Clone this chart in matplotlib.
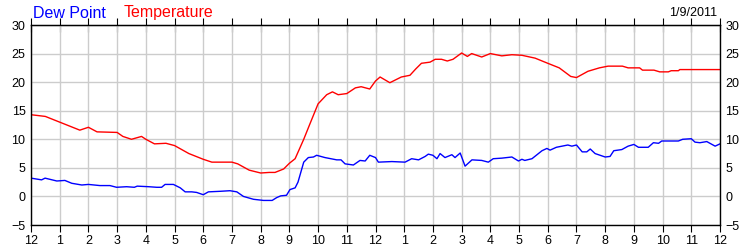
import matplotlib.pyplot as plt

plt.rcParams['font.family'] = ['Liberation Sans', 'DejaVu Sans']

# hours since midnight, readings from the chart
temp_h = [0, 0.5, 1.0, 1.5, 1.7, 2.0, 2.3, 3.0, 3.2, 3.5, 3.85, 4.0, 4.3, 4.7, 5.0,
          5.5, 6.0, 6.3, 7.0, 7.2, 7.6, 8.0, 8.3, 8.5, 8.8, 9.0, 9.2, 9.5, 9.7, 10.0,
          10.3, 10.5, 10.7, 11.0, 11.3, 11.5, 11.8, 12.0, 12.16, 12.5, 12.9, 13.2, 13.4,
          13.6, 13.9, 14.08, 14.3, 14.5, 14.7, 15.0, 15.2, 15.35, 15.7, 16.0, 16.4,
          16.75, 17.1, 17.56, 18.0, 18.4, 18.8, 19.0, 19.4, 19.8, 20.1, 20.6, 20.8,
          21.2, 21.3, 21.7, 21.9, 22.2, 22.3, 22.55, 22.6, 24.0]
temp = [14.3, 14.0, 13.0, 12.0, 11.6, 12.1, 11.3, 11.2, 10.5, 10.0, 10.5, 10.0, 9.2, 9.3, 8.9,
        7.5, 6.5, 6.0, 6.0, 5.7, 4.6, 4.1, 4.2, 4.2, 4.8, 5.8, 6.6, 10.0, 12.5, 16.2,
        17.8, 18.3, 17.8, 18.0, 19.0, 19.2, 18.8, 20.2, 20.9, 19.9, 20.9, 21.2, 22.3,
        23.3, 23.5, 24.0, 24.0, 23.7, 24.0, 25.1, 24.5, 25.0, 24.4, 25.0, 24.6,
        24.8, 24.7, 24.2, 23.3, 22.5, 21.0, 20.8, 21.9, 22.5, 22.8, 22.8, 22.5,
        22.5, 22.1, 22.1, 21.8, 21.8, 22.0, 22.0, 22.2, 22.2]

dew_h = [0, 0.37, 0.49, 0.9, 1.18, 1.42, 1.77, 2.0, 2.4, 2.75, 2.98, 3.33, 3.6, 3.7, 4.1,
         4.38, 4.55, 4.67, 4.96, 5.2, 5.37, 5.6, 5.77, 6.0, 6.18, 6.6, 6.93, 7.17, 7.4,
         7.75, 8.1, 8.4, 8.56, 8.7, 8.9, 9.02, 9.2, 9.3, 9.5, 9.66, 9.84, 9.95, 10.24,
         10.65, 10.8, 10.94, 11.23, 11.46, 11.64, 11.8, 12.0, 12.1, 12.57, 13.03, 13.26,
         13.5, 13.73, 13.84, 14.0, 14.14, 14.25, 14.42, 14.66, 14.77, 14.95, 15.12,
         15.36, 15.7, 15.93, 16.1, 16.4, 16.75, 16.98, 17.1, 17.2, 17.45, 17.8, 17.97,
         18.08, 18.3, 18.7, 18.84, 19.0, 19.2, 19.36, 19.48, 19.65, 20.0, 20.17, 20.3,
         20.58, 20.8, 21.0, 21.16, 21.5, 21.68, 21.86, 21.97, 22.55, 22.7, 23.0, 23.13,
         23.3, 23.54, 23.83, 24.0]
dew = [3.2, 2.9, 3.2, 2.7, 2.8, 2.3, 2.0, 2.1, 1.9, 1.9, 1.6, 1.7, 1.6, 1.8, 1.7,
       1.6, 1.6, 2.1, 2.1, 1.5, 0.8, 0.8, 0.7, 0.3, 0.8, 0.9, 1.0, 0.8, 0.0,
       -0.5, -0.7, -0.7, -0.2, 0.1, 0.2, 1.2, 1.5, 2.5, 6.0, 6.8, 6.9, 7.2, 6.8,
       6.4, 6.4, 5.7, 5.5, 6.3, 6.2, 7.2, 6.8, 6.0, 6.1, 6.0, 6.6,
       6.4, 7.0, 7.4, 7.2, 6.6, 7.5, 6.8, 7.3, 6.8, 7.6, 5.3,
       6.4, 6.3, 6.0, 6.6, 6.7, 6.9, 6.2, 6.5, 6.3, 6.6, 8.0, 8.4,
       8.1, 8.6, 9.0, 8.8, 9.0, 7.8, 7.8, 8.3, 7.5, 6.9, 7.0, 8.0,
       8.2, 8.8, 9.1, 8.6, 8.6, 9.4, 9.3, 9.7, 9.7, 10.0, 10.1, 9.5,
       9.4, 9.6, 8.8, 9.2]

hour_labels = ['12'] + [str(i) for i in range(1, 12)] + ['12'] + [str(i) for i in range(1, 12)] + ['12']
y_ticks = [-5, 0, 5, 10, 15, 20, 25, 30]

fig = plt.figure(figsize=(7.5, 2.5), dpi=100)
ax = fig.add_axes([31 / 750, 0.1, 689 / 750, 0.8])

ax.plot(temp_h, temp, color='#ff0000', lw=1)
ax.plot(dew_h, dew, color='#0000ff', lw=1)

ax.set_xlim(0, 24)
ax.set_ylim(-5, 30)
ax.set_xticks(range(25))
ax.set_xticklabels(hour_labels)
ax.set_yticks(y_ticks)
ax.grid(True, color='#cccccc', lw=1)
ax.set_axisbelow(True)
for s in ax.spines.values():
    s.set_color('black')
    s.set_linewidth(1)

ax.tick_params(axis='x', direction='out', length=5, labelsize=9, pad=2, top=True)
ax.tick_params(axis='y', length=0, labelsize=9, pad=4, left=True, right=True,
               labelleft=True, labelright=True)

ax2 = ax.secondary_xaxis('top')
ax2.set_xticks(range(25))
ax2.tick_params(direction='in', length=5, labeltop=False)

fig.text(33 / 750, 1 - 13 / 250, 'Dew Point', color='#0000ff', fontsize=11.5, va='center')
fig.text(124 / 750, 1 - 13 / 250, 'Temperature', color='#ff0000', fontsize=11.5, va='center')
fig.text(717 / 750, 1 - 13 / 250, '1/9/2011', color='black', fontsize=9, va='center', ha='right')

fig.savefig('out.png', dpi=100)
